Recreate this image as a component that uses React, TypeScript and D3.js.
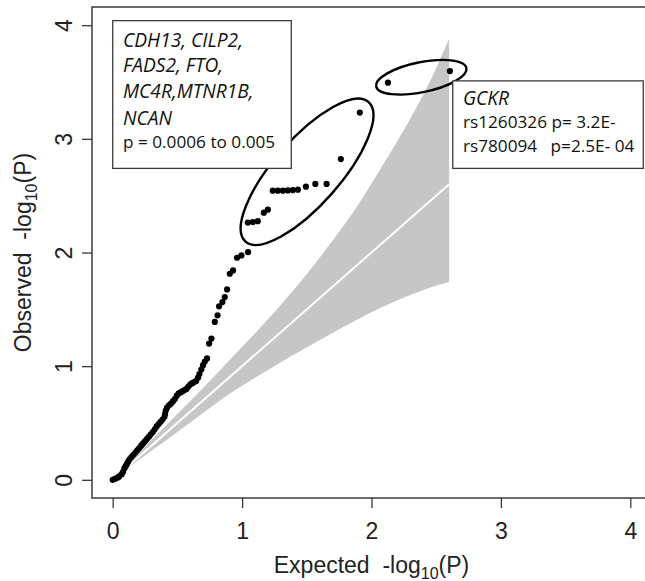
import React, { useEffect, useRef } from 'react';
import * as d3 from 'd3';

// QQ points: expected / observed -log10(P)
const expected = [
  0.00, 0.02, 0.04, 0.05, 0.07, 0.08, 0.09, 0.10, 0.11, 0.12, 0.13, 0.145, 0.16, 0.175, 0.19,
  0.205, 0.22, 0.235, 0.25, 0.265, 0.28, 0.295, 0.31, 0.325, 0.34, 0.355, 0.37, 0.385, 0.40,
  0.405, 0.41, 0.42, 0.435, 0.45, 0.465, 0.48, 0.495, 0.51, 0.525, 0.54, 0.555, 0.57, 0.585,
  0.60, 0.615, 0.63, 0.645, 0.66, 0.67, 0.685, 0.698, 0.712, 0.729,
  0.745, 0.763, 0.789, 0.810, 0.822, 0.848, 0.866, 0.884, 0.905, 0.930, 0.961, 0.995, 1.046,
  1.044, 1.083, 1.121, 1.168, 1.199, 1.237, 1.276, 1.315, 1.353, 1.392, 1.431, 1.493, 1.566,
  1.653, 1.763, 1.910, 2.127, 2.606,
];
const observed = [
  0.00, 0.01, 0.02, 0.03, 0.05, 0.07, 0.10, 0.12, 0.14, 0.16, 0.18, 0.20, 0.22, 0.24, 0.26,
  0.28, 0.30, 0.32, 0.34, 0.36, 0.38, 0.40, 0.42, 0.445, 0.47, 0.49, 0.51, 0.53, 0.555,
  0.58, 0.61, 0.635, 0.655, 0.67, 0.69, 0.71, 0.74, 0.76, 0.77, 0.78, 0.79, 0.80, 0.82,
  0.84, 0.85, 0.86, 0.87, 0.90, 0.93, 0.97, 1.009, 1.04, 1.068,
  1.199, 1.243, 1.389, 1.447, 1.526, 1.564, 1.608, 1.675, 1.813, 1.842, 1.954, 1.974, 2.003,
  2.263, 2.268, 2.276, 2.35, 2.377, 2.544, 2.544, 2.544, 2.546, 2.548, 2.553, 2.579, 2.603,
  2.603, 2.822, 3.231, 3.494, 3.596,
];

// grey confidence band
const bandX = [0, 0.1, 0.3, 0.5, 0.7, 0.9, 1.1, 1.3, 1.45, 1.65, 1.85, 2.05, 2.3, 2.45, 2.6];
const bandUpper = [0, 0.11, 0.35, 0.58, 0.81, 1.05, 1.29, 1.54, 1.74, 2.03, 2.34, 2.70, 3.18, 3.50, 3.88];
const bandLower = [0, 0.09, 0.255, 0.42, 0.59, 0.755, 0.899, 1.035, 1.134, 1.262, 1.386, 1.502, 1.627, 1.69, 1.74];
const nullLine = [0, 2.6];

const xTicks = [0, 1, 2, 3, 4];
const yTicks = [0, 1, 2, 3, 4];

const geneLines = ['CDH13, CILP2,', 'FADS2, FTO,', 'MC4R,MTNR1B,', 'NCAN'];
const geneRange = 'p = 0.0006 to 0.005';
const gckrName = 'GCKR';
const gckrLines = ['rs1260326 p= 3.2E-', 'rs780094   p=2.5E- 04'];

export default function App() {
  const svgRef = useRef<SVGSVGElement>(null);

  useEffect(() => {
    if (!svgRef.current) return;
    const width = 645;
    const height = 581;
    const box = { left: 92, right: 651, top: 7, bottom: 498 };

    const svg = d3.select(svgRef.current);
    svg.selectAll('*').remove();

    const x = d3.scaleLinear().domain([-0.16, 4.16]).range([box.left, box.right]);
    const y = d3.scaleLinear().domain([-0.16, 4.16]).range([box.bottom, box.top]);

    const axisFont = '"Liberation Sans", Arial, Helvetica, sans-serif';
    const boxFont = '"Open Sans", "Noto Sans", sans-serif';
    const ink = '#3a3a3a';

    svg.attr('width', width).attr('height', height);

    // band
    const band = d3.area<number>()
      .x((_, i) => x(bandX[i]))
      .y0((_, i) => y(bandLower[i]))
      .y1((_, i) => y(bandUpper[i]))
      .curve(d3.curveMonotoneX);
    svg.append('path')
      .datum(bandX)
      .attr('d', band)
      .attr('fill', '#c6c6c6');

    // y = x reference line
    svg.append('line')
      .attr('x1', x(nullLine[0])).attr('y1', y(nullLine[0]))
      .attr('x2', x(nullLine[1])).attr('y2', y(nullLine[1]))
      .attr('stroke', '#fff')
      .attr('stroke-width', 2);

    // points
    svg.append('g')
      .selectAll('circle')
      .data(expected)
      .enter()
      .append('circle')
      .attr('cx', d => x(d))
      .attr('cy', (_, i) => y(observed[i]))
      .attr('r', 3.1)
      .attr('fill', '#000');

    // ellipses around hits
    const ellipses = [
      { cx: 1.502, cy: 2.71, rx: 93, ry: 33, angle: -48.6 },
      { cx: 2.385, cy: 3.542, rx: 46, ry: 15, angle: -11.5 },
    ];
    svg.append('g')
      .selectAll('ellipse')
      .data(ellipses)
      .enter()
      .append('ellipse')
      .attr('transform', d => `translate(${x(d.cx)},${y(d.cy)}) rotate(${d.angle})`)
      .attr('rx', d => d.rx)
      .attr('ry', d => d.ry)
      .attr('fill', 'none')
      .attr('stroke', '#000')
      .attr('stroke-width', 2.4);

    // annotation boxes
    const b1 = { x0: 0.0, x1: 1.38, y0: 4.04, y1: 2.74 };
    svg.append('rect')
      .attr('x', x(b1.x0)).attr('y', y(b1.y0))
      .attr('width', x(b1.x1) - x(b1.x0))
      .attr('height', y(b1.y1) - y(b1.y0))
      .attr('fill', '#fff')
      .attr('stroke', ink)
      .attr('stroke-width', 1.3);
    const t1 = svg.append('g').attr('font-family', boxFont).attr('fill', '#111');
    const geneBase = [46.7, 71.9, 98.3, 124.8];
    geneLines.forEach((l, i) => {
      t1.append('text')
        .attr('x', 123).attr('y', geneBase[i])
        .attr('font-size', 19.2)
        .attr('font-style', 'italic')
        .text(l);
    });
    t1.append('text')
      .attr('x', 123).attr('y', 148.3)
      .attr('font-size', 17.2)
      .text(geneRange);

    const b2 = { x0: 2.628, x1: 4.1, y0: 3.51, y1: 2.74 };
    svg.append('rect')
      .attr('x', x(b2.x0)).attr('y', y(b2.y0))
      .attr('width', x(b2.x1) - x(b2.x0))
      .attr('height', y(b2.y1) - y(b2.y0))
      .attr('fill', '#fff')
      .attr('stroke', ink)
      .attr('stroke-width', 1.3);
    const t2 = svg.append('g').attr('font-family', boxFont).attr('fill', '#111');
    t2.append('text')
      .attr('x', 463).attr('y', 105)
      .attr('font-size', 19.2)
      .attr('font-style', 'italic')
      .text(gckrName);
    gckrLines.forEach((l, i) => {
      t2.append('text')
        .attr('x', 463).attr('y', 128.3 + i * 23.4)
        .attr('font-size', 17.2)
        .style('white-space', 'pre')
        .text(l);
    });

    // plot frame
    svg.append('rect')
      .attr('x', box.left).attr('y', box.top)
      .attr('width', box.right - box.left)
      .attr('height', box.bottom - box.top)
      .attr('fill', 'none')
      .attr('stroke', ink)
      .attr('stroke-width', 1.5);

    // axes
    const xAxis = svg.append('g')
      .attr('transform', `translate(0,${box.bottom})`)
      .call(d3.axisBottom(x).tickValues(xTicks).tickSize(10).tickFormat(d3.format('d')));
    xAxis.select('.domain').remove();
    xAxis.selectAll('line').attr('stroke', ink).attr('stroke-width', 1.3);
    xAxis.selectAll('text')
      .attr('y', 41).attr('dy', 0)
      .attr('font-family', axisFont)
      .attr('font-size', 23)
      .attr('fill', '#222');

    const yAxis = svg.append('g')
      .attr('transform', `translate(${box.left},0)`)
      .call(d3.axisLeft(y).tickValues(yTicks).tickSize(10).tickFormat(d3.format('d')));
    yAxis.select('.domain').remove();
    yAxis.selectAll('line').attr('stroke', ink).attr('stroke-width', 1.3);
    yAxis.selectAll('text')
      .attr('x', 0).attr('y', -20.5).attr('dy', 0)
      .attr('transform', 'rotate(-90)')
      .attr('text-anchor', 'middle')
      .attr('font-family', axisFont)
      .attr('font-size', 23)
      .attr('fill', '#222');

    // axis titles
    const fs = 23;
    const sub = 16;
    const title = (g: d3.Selection<SVGTextElement, unknown, null, undefined>, word: string) => {
      g.append('tspan').style('white-space', 'pre').text(`${word}  -log`);
      g.append('tspan').attr('font-size', sub).attr('dy', 6).text('10');
      g.append('tspan').attr('dy', -6).text('(P)');
    };
    const xt = svg.append('text')
      .attr('x', (box.left + box.right) / 2)
      .attr('y', 573)
      .attr('text-anchor', 'middle')
      .attr('font-family', axisFont)
      .attr('font-size', fs)
      .attr('fill', '#222');
    title(xt as any, 'Expected');

    const yt = svg.append('text')
      .attr('transform', `translate(31,${(box.top + box.bottom) / 2}) rotate(-90)`)
      .attr('text-anchor', 'middle')
      .attr('font-family', axisFont)
      .attr('font-size', fs)
      .attr('fill', '#222');
    title(yt as any, 'Observed');
  }, []);

  return (
    <svg
      ref={svgRef}
      style={{ position: 'absolute', left: 0, top: 0, display: 'block', background: '#fff' }}
    />
  );
}
